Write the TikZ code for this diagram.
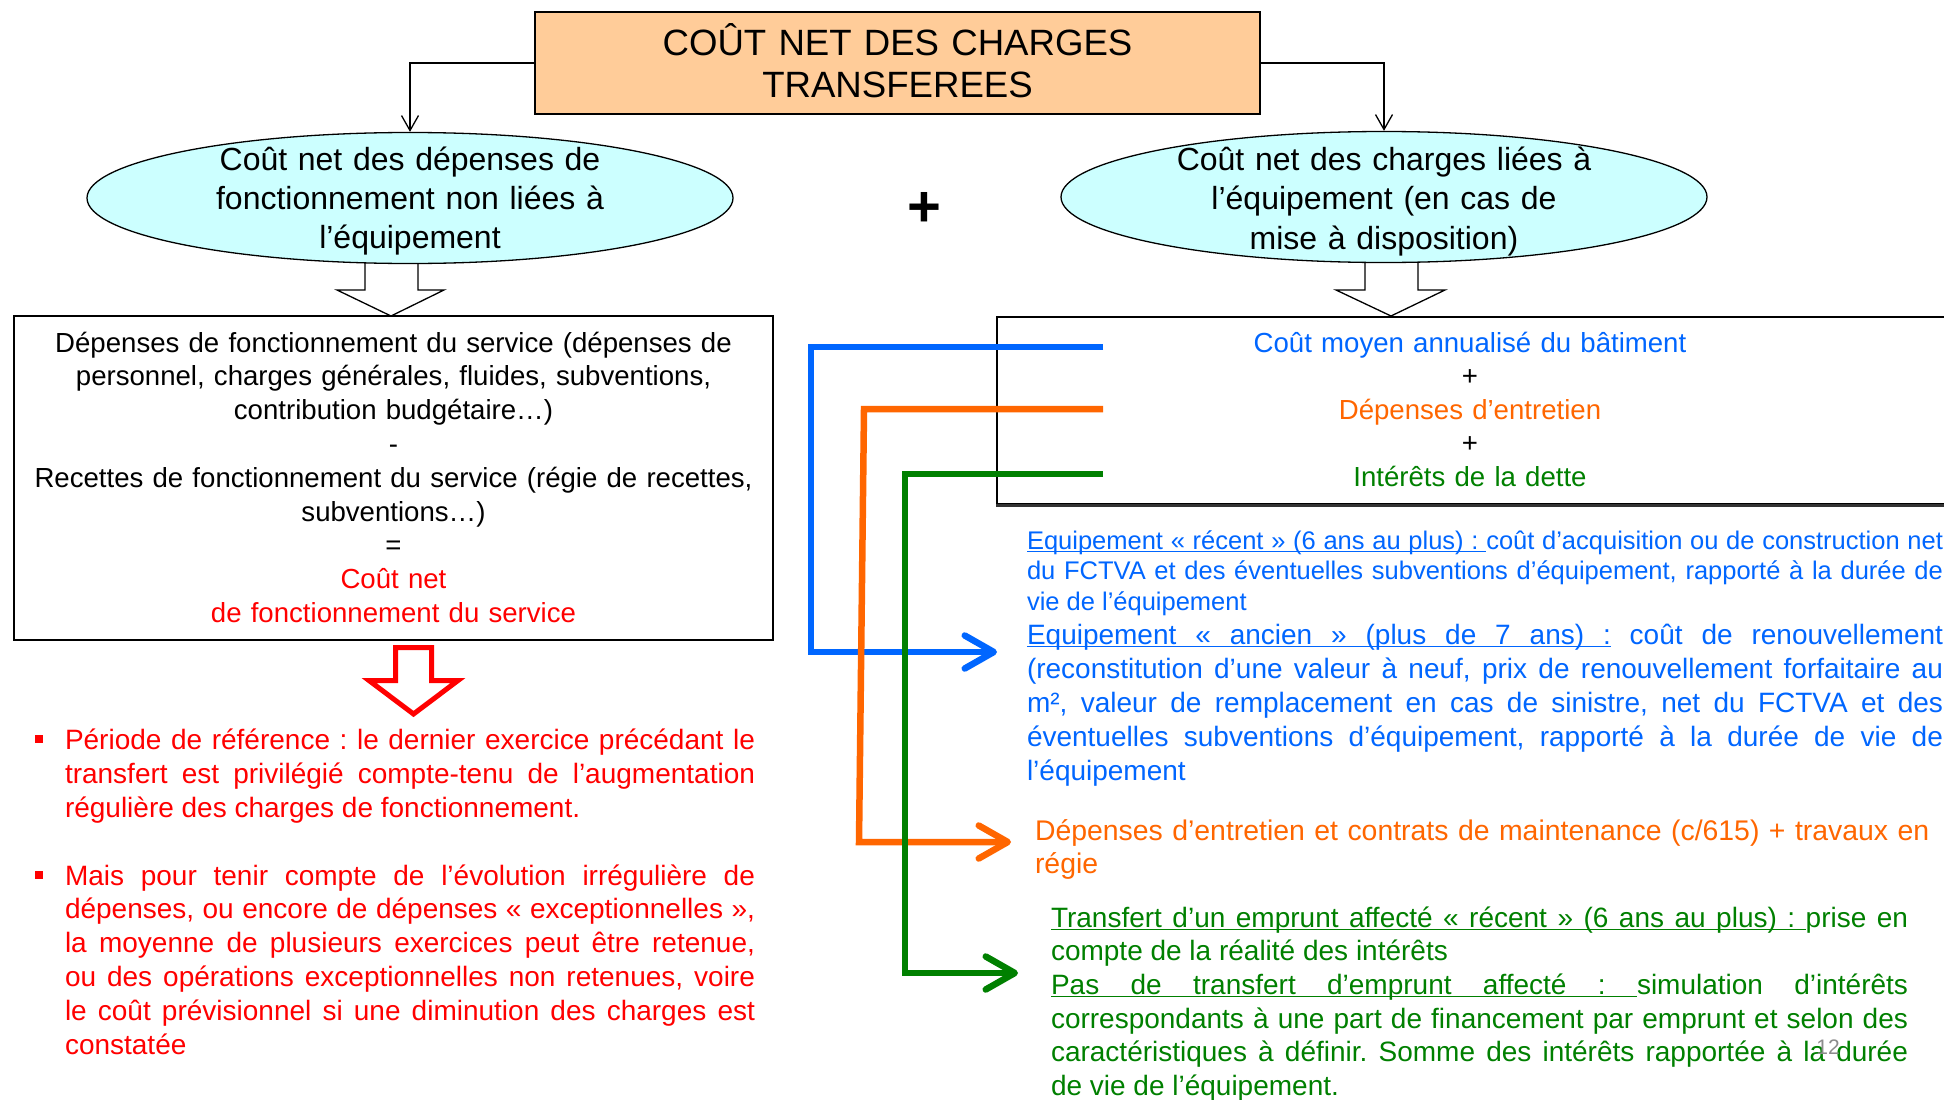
\documentclass[tikz,border=0pt]{standalone}
\usepackage{fontspec}
\setmainfont{Liberation Sans}
\usetikzlibrary{arrows.meta,shapes.geometric}
\definecolor{tblue}{HTML}{0066FF}
\definecolor{torange}{HTML}{FF6600}
\definecolor{tgreen}{HTML}{008000}
\definecolor{peach}{HTML}{FFCC99}
\definecolor{lcyan}{HTML}{CCFFFF}
\definecolor{pgray}{HTML}{8C8C8C}
\frenchspacing
\newcommand\fsz[2]{\fontsize{#1}{#2}\selectfont}
\newcommand\ulw[1]{\leavevmode\setbox0=\hbox{#1}\rlap{\rule[-3pt]{\wd0}{1.4pt}}\box0\relax}
\newcommand\ulsp{\leavevmode\leaders\hrule height -1.6pt depth 3pt\hskip\fontdimen2\font plus\fontdimen3\font minus\fontdimen4\font\relax}
\tikzset{
  thinarr/.style={line width=1.3pt,-{Straight Barb[length=15pt,width=17pt]}},
  fatarr/.style={line width=6.5pt,-{Straight Barb[length=29pt,width=33pt,round]}},
  txt/.style={inner sep=0pt,outer sep=0pt},
  ctr/.style={txt,anchor=base,align=center},
  jpar/.style={txt,anchor=base west,align=justify},
  lpar/.style={txt,anchor=base west,align=left},
  hollow/.style={fill=white,draw=black,line width=1.3pt,line join=miter},
  ellbox/.style={ellipse,draw,fill=lcyan,line width=1.3pt,minimum width=646pt,minimum height=131pt,inner sep=0pt},
  framebox/.style={draw,line width=2pt,inner sep=0pt}
}
\begin{document}
\begin{tikzpicture}[x=1pt,y=-1pt]
\fill[white] (0,0) rectangle (1944,1100);
\useasboundingbox (0,0) rectangle (1944,1100);

% hollow block arrows under the ellipses
\path[hollow] (365,255) -- (365,290) -- (337,290) -- (391,316) -- (444,290) -- (418,290) -- (418,255);
\path[hollow] (1365,255) -- (1365,290) -- (1336,290) -- (1391,316) -- (1445,290) -- (1418,290) -- (1418,255);

% title
\node[draw,fill=peach,line width=1.5pt,minimum width=725pt,minimum height=102pt,inner sep=0pt] (title) at (897.5,63) {};
\node[ctr,text width=700pt,font=\fsz{36.6}{43}] (titletext) at (897.5,55) {COÛT NET DES CHARGES\\TRANSFEREES};

% ellipses
\node[ellbox] (ellL) at (410,198) {};
\node[ctr,text width=600pt,font=\fsz{32}{39}] (ellLt) at (410,170) {Coût net des dépenses de\\fonctionnement non liées à\\l’équipement};
\node[ellbox] (ellR) at (1384,197) {};
\node[ctr,text width=600pt,font=\fsz{32}{39.5}] (ellRt) at (1384,170) {Coût net des charges liées à\\l’équipement (en cas de\\mise à disposition)};

\draw[thinarr] (title.west) -| (ellL.north);
\draw[thinarr] (title.east) -| (ellR.north);

\node[txt,font=\fsz{58}{58}\bfseries] (plus) at (924,209) {+};

% left box
\node[framebox,minimum width=759pt,minimum height=324pt] (lbox) at (393.5,478) {};
\node[ctr,text width=750pt,font=\fsz{27.6}{33.8}] (ltext) at (393.5,352) {Dépenses de fonctionnement du service (dépenses de\\personnel, charges générales, fluides, subventions,\\contribution budgétaire…)\\-\\Recettes de fonctionnement du service (régie de recettes,\\subventions…)\\=\\{\color{red}Coût net}\\{\color{red}de fonctionnement du service}};

% red hollow arrow
\path[draw=red,fill=white,line width=5pt,line join=miter] (395.5,647.5) -- (395.5,680.5) -- (369,680.5) -- (413.5,714) -- (458,680.5) -- (431.5,680.5) -- (431.5,647.5) -- cycle;

% red bullets
\node[fill=red,minimum size=8pt,inner sep=0pt] (bul1) at (39,739) {};
\node[fill=red,minimum size=8pt,inner sep=0pt] (bul2) at (39,875) {};
\node[jpar,text width=690pt,text=red,font=\fsz{28}{34}] (red1) at (65,749) {Période de référence : le dernier exercice précédant le\linebreak transfert est privilégié compte-tenu de l’augmentation\linebreak régulière des charges de fonctionnement.};
\node[jpar,text width=690pt,text=red,font=\fsz{28}{33.9}] (red2) at (65,885) {Mais pour tenir compte de l’évolution irrégulière de\linebreak dépenses, ou encore de dépenses « exceptionnelles »,\linebreak la moyenne de plusieurs exercices peut être retenue,\linebreak ou des opérations exceptionnelles non retenues, voire\linebreak le coût prévisionnel si une diminution des charges est\linebreak constatée};

% right box
\node[framebox,minimum width=952pt,minimum height=187pt,anchor=north west] (rbox) at (996,316) {};
\draw[line width=3pt,black!80] (rbox.south west) -- (rbox.south east);
\node[ctr,text width=800pt,font=\fsz{27.6}{33.6}] (rtext) at (1470,352) {{\color{tblue}Coût moyen annualisé du bâtiment}\\+\\{\color{torange}Dépenses d’entretien}\\+\\{\color{tgreen}Intérêts de la dette}};

% right paragraphs
\node[jpar,text width=916pt,text=tblue,font=\fsz{25.5}{30.7}] (bp1) at (1027,549) {\ulw{Equipement}\ulsp\ulw{«}\ulsp\ulw{récent}\ulsp\ulw{»}\ulsp\ulw{(6}\ulsp\ulw{ans}\ulsp\ulw{au}\ulsp\ulw{plus)}\ulsp\ulw{:}\ulsp coût d’acquisition ou de construction net\linebreak du FCTVA et des éventuelles subventions d’équipement, rapporté à la durée de\linebreak vie de l’équipement};
\node[jpar,text width=916pt,text=tblue,font=\fsz{28}{34}] (bp2) at (1027,644) {\ulw{Equipement}\ulsp\ulw{«}\ulsp\ulw{ancien}\ulsp\ulw{»}\ulsp\ulw{(plus}\ulsp\ulw{de}\ulsp\ulw{7}\ulsp\ulw{ans)}\ulsp\ulw{:} coût de renouvellement\linebreak (reconstitution d’une valeur à neuf, prix de renouvellement forfaitaire au\linebreak m², valeur de remplacement en cas de sinistre, net du FCTVA et des\linebreak éventuelles subventions d’équipement, rapporté à la durée de vie de\linebreak l’équipement};
\node[lpar,text width=910pt,text=torange,font=\fsz{28.4}{33}] (op) at (1035,840) {Dépenses d’entretien et contrats de maintenance (c/615) + travaux en\\régie};
\node[jpar,text width=857pt,text=tgreen,font=\fsz{28}{33.7}] (gp) at (1051,927) {\ulw{Transfert}\ulsp\ulw{d’un}\ulsp\ulw{emprunt}\ulsp\ulw{affecté}\ulsp\ulw{«}\ulsp\ulw{récent}\ulsp\ulw{»}\ulsp\ulw{(6}\ulsp\ulw{ans}\ulsp\ulw{au}\ulsp\ulw{plus)}\ulsp\ulw{:}\ulsp prise en\linebreak compte de la réalité des intérêts\par \ulw{Pas}\ulsp\ulw{de}\ulsp\ulw{transfert}\ulsp\ulw{d’emprunt}\ulsp\ulw{affecté}\ulsp\ulw{:}\ulsp simulation d’intérêts\linebreak correspondants à une part de financement par emprunt et selon des\linebreak caractéristiques à définir. Somme des intérêts rapportée à la durée\linebreak de vie de l’équipement.};

% coloured connectors
\coordinate (bS) at (1103,347);
\coordinate (bE) at (997,652);
\coordinate (oS) at (1103,409);
\coordinate (oE) at (1011,842);
\coordinate (gS) at (1103,474);
\coordinate (gE) at (1018,973);
\draw[fatarr,tblue] (bS) -- (811,347) |- (bE);
\draw[fatarr,torange] (oS) -- (864,409) -- (859,842) -- (oE);
\draw[fatarr,tgreen] (gS) -- (905,474) |- (gE);

\node[txt,text=pgray,font=\fsz{21}{21}] (pnum) at (1828,1047) {12};
\end{tikzpicture}
\end{document}
